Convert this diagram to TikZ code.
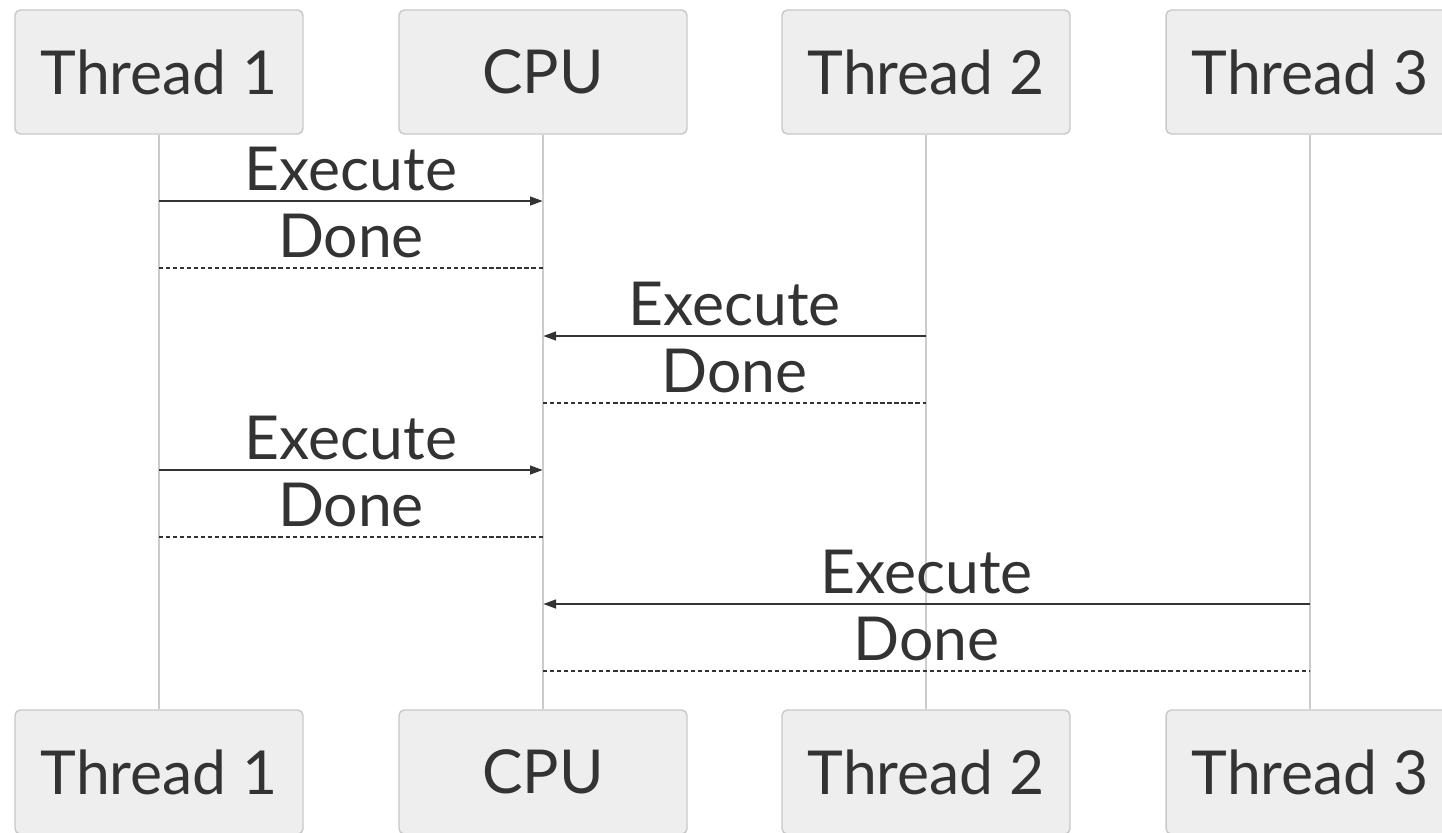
\documentclass[tikz,border=0pt]{standalone}
\usepackage{fontspec}
\setmainfont{Lato}
\usetikzlibrary{arrows.meta}

\definecolor{boxfill}{HTML}{EEEEEE}
\definecolor{boxline}{HTML}{C8C8C8}
\definecolor{lifeline}{HTML}{CCCCCC}
\definecolor{ink}{HTML}{333333}

\tikzset{
  actor/.style={draw=boxline, fill=boxfill, rounded corners=3pt, line width=0.8pt,
    minimum width=5.76cm, minimum height=2.48cm, inner sep=0pt,
    text=ink, font=\fontsize{34.5}{38}\selectfont},
  life/.style={draw=lifeline, line width=0.8pt},
  call/.style={draw=ink, line width=1.5pt, -{Triangle[length=0.26cm,width=0.17cm]}},
  reply/.style={draw=ink, line width=1.3pt, dash pattern=on 2.4pt off 1.6pt},
  msg/.style={midway, anchor=base, yshift=0.22cm, inner sep=0pt,
    text=ink, font=\fontsize{34.5}{38}\selectfont},
}

\begin{document}
\begin{tikzpicture}[x=0.02cm, y=-0.02cm]
\useasboundingbox (0,0) rectangle (1442,832);
\clip (0,0) rectangle (1442,832);

% participants, head and foot
\node[actor] (t1-top)  at (159,72)  {Thread 1};
\node[actor] (cpu-top) at (543,72)  {CPU};
\node[actor] (t2-top)  at (926,72)  {Thread 2};
\node[actor] (t3-top)  at (1310,72) {Thread 3};

\node[actor] (t1-bot)  at (159,772)  {Thread 1};
\node[actor] (cpu-bot) at (543,772)  {CPU};
\node[actor] (t2-bot)  at (926,772)  {Thread 2};
\node[actor] (t3-bot)  at (1310,772) {Thread 3};

% lifelines
\foreach \p in {t1,cpu,t2,t3}
  \draw[life] (\p-top) -- (\p-bot);

% thread 1
\draw[call]  (t1-top |- 0,201) -- node[msg] {Execute} (cpu-top |- 0,201);
\draw[reply] (t1-top |- 0,268) -- node[msg] {Done} (cpu-top |- 0,268);

% thread 2
\draw[call]  (t2-top |- 0,336) -- node[msg] {Execute} (cpu-top |- 0,336);
\draw[reply] (cpu-top |- 0,403) -- node[msg] {Done} (t2-top |- 0,403);

% thread 1 again
\draw[call]  (t1-top |- 0,470) -- node[msg] {Execute} (cpu-top |- 0,470);
\draw[reply] (t1-top |- 0,537) -- node[msg] {Done} (cpu-top |- 0,537);

% thread 3
\draw[call]  (t3-top |- 0,604) -- node[msg] {Execute} (cpu-top |- 0,604);
\draw[reply] (cpu-top |- 0,671) -- node[msg] {Done} (t3-top |- 0,671);
\end{tikzpicture}
\end{document}
